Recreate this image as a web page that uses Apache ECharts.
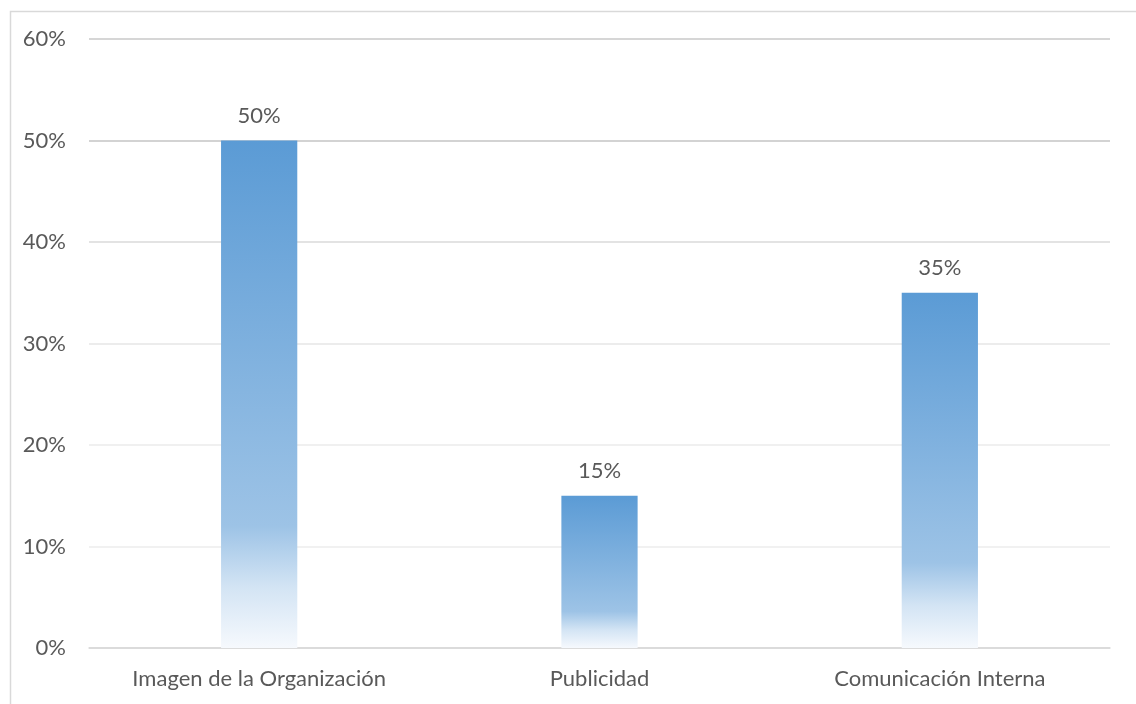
<!DOCTYPE html>
<html>
<head>
<meta charset="utf-8">
<script src="https://cdn.jsdelivr.net/npm/echarts@6/dist/echarts.min.js"></script>
<style>
  html, body { margin: 0; padding: 0; background: #ffffff; }
  #chart { width: 1136px; height: 704px; }
</style>
</head>
<body>
<div id="chart"></div>
<script>
// Chart data
const categories = ['Imagen de la Organización', 'Publicidad', 'Comunicación Interna'];
const shares = [50, 15, 35];           // percent
const tickValues = [0, 10, 20, 30, 40, 50, 60];

const textColor = '#595959';
const fontFamily = 'Lato, "Open Sans", sans-serif';
const fontSize = 22;

// Each bar fades from the accent blue at its top to near white at its base
const barFill = new echarts.graphic.LinearGradient(0, 0, 0, 1, [
  { offset: 0, color: '#5b9bd5' },
  { offset: 0.76, color: '#9dc3e6' },
  { offset: 0.88, color: '#d3e4f4' },
  { offset: 1, color: '#f6f9fd' }
]);

const chart = echarts.init(document.getElementById('chart'), null, { renderer: 'canvas' });

chart.setOption({
  animation: false,
  backgroundColor: '#ffffff',
  graphic: [{
    type: 'rect',
    left: 8, top: 9,
    shape: { width: 1400, height: 900 },
    style: { fill: 'none', stroke: '#d9d9d9', lineWidth: 1.5 },
    z: -1
  }],
  grid: { left: 89, right: 26, top: 39, bottom: 56, containLabel: false },
  xAxis: {
    type: 'category',
    data: categories,
    axisLine: { show: true, lineStyle: { color: '#d9d9d9', width: 1.5 } },
    axisTick: { show: false },
    axisLabel: { color: textColor, fontFamily, fontSize, margin: 20 }
  },
  yAxis: {
    type: 'value',
    min: tickValues[0],
    max: tickValues[tickValues.length - 1],
    interval: 10,
    axisLine: { show: false },
    axisTick: { show: false },
    axisLabel: { color: textColor, fontFamily, fontSize, margin: 23, formatter: v => v + '%' },
    splitLine: {
      lineStyle: {
        width: 1.5,
        color: ['#d9d9d9', '#ededed', '#ebebeb', '#e6e6e6', '#dadada', '#c4c4c4', '#c8c8c8']
      }
    }
  },
  series: [{
    type: 'bar',
    data: shares,
    barWidth: '22.4%',
    itemStyle: { color: barFill },
    label: {
      show: true,
      position: 'top',
      distance: 14,
      color: textColor,
      fontFamily,
      fontSize,
      formatter: p => p.value + '%'
    }
  }]
});
</script>
</body>
</html>
